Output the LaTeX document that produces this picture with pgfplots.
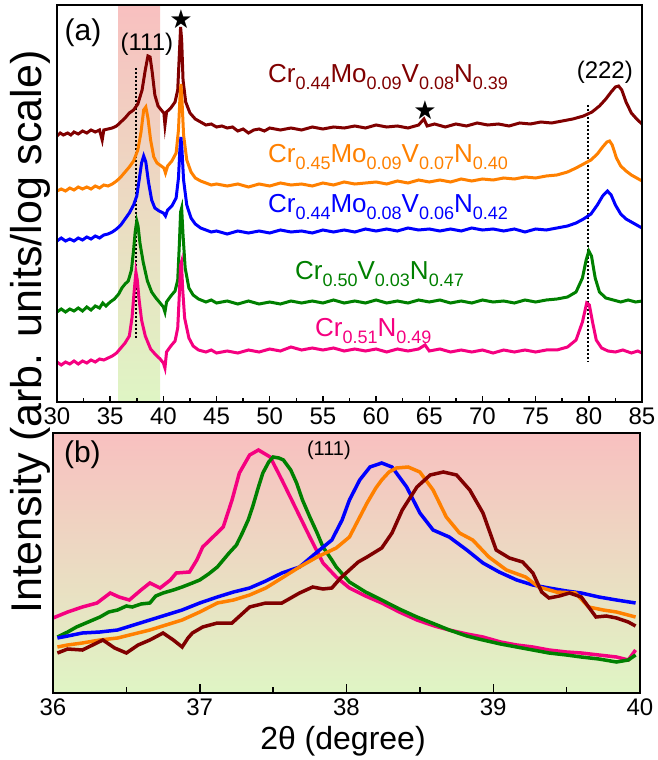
\documentclass[border=0pt]{standalone}
\usepackage{fontspec}
\setmainfont{Liberation Sans}
\newfontfamily\dejavu{DejaVu Sans}
\usepackage{pgfplots}
\pgfplotsset{compat=1.18}
\usetikzlibrary{shadings}
\definecolor{cDR}{RGB}{128,0,0}
\definecolor{cOR}{RGB}{255,128,0}
\definecolor{cBL}{RGB}{0,0,255}
\definecolor{cGR}{RGB}{0,128,0}
\definecolor{cPK}{RGB}{245,0,128}
\definecolor{bgtop}{RGB}{248,192,192}
\definecolor{bgbot}{RGB}{223,245,196}
\newcommand{\fs}[1]{\fontsize{#1}{#1}\selectfont}
\newcommand{\s}[1]{\raisebox{-7bp}{\fs{18bp}#1}}
\pgfplotsset{
  common/.style={
    scale only axis, anchor=south west,
    axis line style={line width=2bp},
    tick style={line width=1.5bp, black},
    tick align=inside, xtick pos=left, ytick=\empty,
    y dir=reverse,
    /pgf/number format/assume math mode=true,
    x tick label style={font=\fs{24bp}},
    clip mode=individual,
  }
}
\begin{document}
\begin{tikzpicture}
\useasboundingbox (0,0) rectangle (658bp,760bp);
% ---------------- panel (a)
\begin{axis}[common,
  at={(57bp,358bp)}, width=585bp, height=397bp,
  xmin=30, xmax=85, ymin=5, ymax=402,
  xtick={30,35,...,85}, minor xtick={32.5,37.5,...,82.5},
  major tick length=6bp, minor tick length=4bp,
  x tick label style={yshift=-2bp},
  axis on top]
\addplot[draw=none, top color=bgtop, bottom color=bgbot] coordinates {(35.8,5) (39.7,5) (39.7,402) (35.8,402)} --cycle;
\addplot[black, line width=2bp, dash pattern=on 2bp off 2bp] coordinates {(37.4,68) (37.4,338)};
\addplot[black, line width=2bp, dash pattern=on 2bp off 2bp] coordinates {(79.9,105) (79.9,362)};
% dark red
\addplot[cDR, line width=3bp] coordinates {(30,136)(30.3,133)(30.6,135)(31,133)(31.3,135)(31.6,132)(32,134)(32.4,131)(32.8,133)(33.2,130)(33.6,132)(34,130)(34.25,140)(34.4,130)(34.8,129)(35.2,128)(35.6,126)(36,122)(36.4,118)(36.8,113)(37.2,110)(37.6,104)(38,90)(38.3,70)(38.55,56)(38.75,57)(38.95,72)(39.2,95)(39.5,106)(39.8,110)(40.05,113)(40.15,125)(40.3,112)(40.7,108)(41.1,102)(41.35,90)(41.5,55)(41.62,27)(41.72,40)(41.85,80)(42.1,102)(42.5,113)(43,119)(43.5,122)(44,125)(44.5,124)(45,127)(45.5,126)(46,128)(46.5,127)(47,131)(47.5,129)(48,133)(48.5,130)(49,129)(49.5,131)(50,128)(51,130)(52,128)(53,130)(54,127)(55,129)(56,127)(57,128)(58,126)(59,128)(60,125)(61,127)(62,126)(63,128)(64,125)(64.5,119)(64.8,126)(65.5,124)(66.5,127)(67.5,124)(68.5,126)(69.5,123)(70.5,125)(71.5,124)(72.5,126)(73.5,123)(74.5,124)(75.5,122)(76.5,123)(77.5,121)(78.5,119)(79.5,116)(80.3,112)(81,106)(81.6,99)(82.1,92)(82.5,87)(82.8,86)(83.1,90)(83.5,102)(84,113)(84.5,119)(85,124)};
% orange
\addplot[cOR, line width=3bp] coordinates {(30,191)(30.4,189)(30.8,191)(31.2,188)(31.6,190)(32,187)(32.4,189)(32.8,187)(33.2,189)(33.6,186)(34,188)(34.4,185)(34.8,186)(35.2,184)(35.6,181)(36,177)(36.4,172)(36.8,167)(37.2,161)(37.6,150)(37.9,132)(38.15,110)(38.35,107)(38.55,118)(38.8,140)(39.1,157)(39.4,163)(39.8,166)(40.05,168)(40.2,173)(40.4,166)(40.8,161)(41.2,153)(41.42,130)(41.55,100)(41.65,84)(41.75,100)(41.9,135)(42.2,160)(42.6,172)(43,178)(43.5,181)(44,183)(44.5,185)(45,184)(46,186)(47,184)(48,187)(49,184)(50,186)(51,183)(52,185)(53,184)(54,186)(55,183)(56,185)(57,182)(58,184)(59,183)(60,182)(61,184)(62,181)(63,183)(64,180)(65,182)(66,180)(67,182)(68,179)(69,181)(70,179)(71,180)(72,178)(73,179)(74,177)(75,178)(76,176)(77,175)(78,172)(78.8,168)(79.5,164)(80.2,160)(80.8,154)(81.3,147)(81.7,142)(81.95,141)(82.2,145)(82.6,158)(83,166)(83.5,171)(84,175)(84.5,178)(85,181)};
% blue
\addplot[cBL, line width=3bp] coordinates {(30,241)(30.4,238)(30.8,241)(31.2,239)(31.6,241)(32,238)(32.4,240)(32.8,237)(33.2,239)(33.6,236)(34,238)(34.4,235)(34.8,234)(35.2,232)(35.6,229)(36,225)(36.4,219)(36.8,213)(37.2,205)(37.5,196)(37.75,178)(37.95,163)(38.15,156)(38.35,162)(38.6,182)(38.9,200)(39.2,208)(39.6,211)(40.0,213)(40.2,216)(40.4,210)(40.8,206)(41.2,198)(41.42,178)(41.55,150)(41.65,137)(41.75,150)(41.9,180)(42.2,205)(42.6,218)(43,224)(43.5,228)(44,230)(44.5,232)(45,231)(46,234)(47,231)(48,233)(49,231)(50,233)(51,230)(52,232)(53,231)(54,233)(55,230)(56,232)(57,230)(58,232)(59,229)(60,231)(61,229)(62,231)(63,228)(64,230)(65,229)(66,231)(67,229)(68,231)(69,228)(70,230)(71,229)(72,231)(73,229)(74,232)(75,229)(76,230)(77,228)(78,226)(78.8,223)(79.5,219)(80.2,214)(80.8,205)(81.3,196)(81.75,191)(82.1,195)(82.5,205)(83,214)(83.5,219)(84,222)(84.5,225)(85,228)};
% green
\addplot[cGR, line width=3bp] coordinates {(30,312)(30.4,309)(30.8,312)(31.2,309)(31.6,311)(32,308)(32.4,311)(32.8,307)(33.2,310)(33.6,306)(34,308)(34.3,303)(34.6,306)(35,302)(35.4,299)(35.8,294)(36.1,288)(36.4,284)(36.7,281)(37.0,270)(37.2,250)(37.35,232)(37.5,221)(37.62,226)(37.8,243)(38.1,262)(38.5,281)(38.9,292)(39.3,298)(39.7,303)(40.0,307)(40.15,312)(40.3,302)(40.7,296)(41.1,291)(41.35,280)(41.5,245)(41.62,212)(41.72,208)(41.85,235)(42.05,268)(42.4,288)(42.8,295)(43.3,299)(44,302)(44.5,300)(45,303)(46,301)(47,304)(48,301)(49,304)(50,302)(51,304)(52,301)(53,303)(54,301)(55,303)(56,300)(57,303)(58,301)(59,303)(60,300)(61,303)(62,301)(63,303)(64,300)(65,302)(66,300)(67,303)(68,301)(69,303)(70,300)(71,302)(72,301)(73,303)(74,300)(75,302)(76,300)(77,299)(78,297)(78.8,292)(79.4,278)(79.75,260)(80.0,251)(80.25,256)(80.6,278)(81,292)(81.6,298)(82.3,300)(83,302)(83.7,300)(84.4,302)(85,301)};
% pink
\addplot[cPK, line width=3bp] coordinates {(30,362)(30.4,365)(30.8,362)(31.2,364)(31.6,361)(32,364)(32.4,361)(32.8,363)(33.2,360)(33.6,362)(34,359)(34.4,360)(34.8,358)(35.2,356)(35.6,353)(36,348)(36.4,343)(36.8,336)(37.05,318)(37.25,292)(37.42,272)(37.55,280)(37.7,298)(37.95,320)(38.3,336)(38.8,349)(39.3,355)(39.7,359)(40.0,363)(40.15,368)(40.3,352)(40.7,346)(41.1,341)(41.35,328)(41.5,295)(41.62,265)(41.7,262)(41.82,290)(42.0,318)(42.4,338)(42.8,346)(43.3,350)(44,352)(44.5,350)(45,353)(46,351)(47,353)(48,350)(49,352)(50,349)(51,351)(52,347)(53,350)(54,348)(55,350)(56,348)(57,351)(58,349)(59,351)(60,349)(61,352)(62,349)(63,351)(64,349)(64.6,345)(65,351)(66,349)(67,352)(68,350)(69,352)(70,350)(71,353)(72,350)(73,352)(74,350)(75,352)(76,350)(77,350)(78,347)(78.8,340)(79.4,322)(79.8,303)(80.05,305)(80.35,322)(80.7,340)(81.2,348)(81.8,351)(82.5,352)(83.2,350)(84,353)(84.6,351)(85,353)};
% stars
\addplot[only marks, mark=text, text mark={\dejavu\fs{26bp}★}] coordinates {(41.65,19) (64.6,110)};
% labels
\node[font=\fs{30bp}, inner sep=0] at (axis cs:32.45,33) {(a)};
\node[font=\fs{24bp}, inner sep=0] at (axis cs:38.45,44) {(111)};
\node[font=\fs{24bp}, inner sep=0] at (axis cs:81.5,72) {(222)};
\node[font=\fs{26bp}, text=cDR, anchor=base west, inner sep=0] at (axis cs:49.83,83) {Cr\s{0.44}Mo\s{0.09}V\s{0.08}N\s{0.39}};
\node[font=\fs{26bp}, text=cOR, anchor=base west, inner sep=0] at (axis cs:49.83,163) {Cr\s{0.45}Mo\s{0.09}V\s{0.07}N\s{0.40}};
\node[font=\fs{26bp}, text=cBL, anchor=base west, inner sep=0] at (axis cs:49.83,213) {Cr\s{0.44}Mo\s{0.08}V\s{0.06}N\s{0.42}};
\node[font=\fs{26bp}, text=cGR, anchor=base west, inner sep=0] at (axis cs:52.37,280) {Cr\s{0.50}V\s{0.03}N\s{0.47}};
\node[font=\fs{26bp}, text=cPK, anchor=base west, inner sep=0] at (axis cs:54.25,337) {Cr\s{0.51}N\s{0.49}};
\end{axis}
% ---------------- panel (b)
\begin{axis}[common,
  at={(53bp,67bp)}, width=587bp, height=260bp,
  xmin=36, xmax=40, ymin=433, ymax=693,
  xtick={36,37,38,39,40}, minor xtick={36.5,37.5,38.5,39.5},
  major tick length=9bp, minor tick length=6bp,
  x tick label style={yshift=-2bp},
  axis background/.style={top color=bgtop, bottom color=bgbot},
  axis on top]
\addplot[cPK, line width=3.5bp] coordinates {(36.0,618)(36.1,612)(36.2,607)(36.3,603)(36.39,593)(36.45,597)(36.52,600)(36.6,590)(36.66,583)(36.73,588)(36.8,580)(36.84,573)(36.93,572)(36.98,560)(37.02,547)(37.09,537)(37.16,527)(37.22,500)(37.27,473)(37.34,455)(37.4,450)(37.48,457)(37.56,480)(37.66,510)(37.75,537)(37.84,563)(37.93,577)(38.02,588)(38.13,596)(38.24,603)(38.36,612)(38.48,620)(38.6,626)(38.7,630)(38.82,634)(38.93,637)(39.05,642)(39.16,645)(39.27,647)(39.38,650)(39.5,652)(39.6,653)(39.72,655)(39.84,657)(39.92,660)(39.97,650)};
\addplot[cGR, line width=3.5bp] coordinates {(36.03,637)(36.1,632)(36.16,627)(36.24,622)(36.32,617)(36.38,612)(36.44,610)(36.5,606)(36.54,607)(36.6,604)(36.66,603)(36.7,596)(36.75,593)(36.82,590)(36.88,587)(36.95,583)(37.0,580)(37.06,574)(37.12,567)(37.16,560)(37.2,553)(37.25,545)(37.29,533)(37.33,520)(37.36,507)(37.4,487)(37.43,473)(37.47,462)(37.5,457)(37.54,458)(37.57,460)(37.62,470)(37.66,483)(37.7,500)(37.75,517)(37.8,533)(37.84,547)(37.9,560)(37.93,567)(38.02,582)(38.13,592)(38.24,600)(38.36,609)(38.48,617)(38.6,624)(38.7,630)(38.82,636)(38.93,640)(39.05,644)(39.16,647)(39.27,650)(39.38,653)(39.5,655)(39.6,657)(39.72,659)(39.84,662)(39.92,660)(39.97,655)};
\addplot[cBL, line width=3.5bp] coordinates {(36.03,638)(36.1,636)(36.2,633)(36.32,632)(36.44,630)(36.55,625)(36.66,620)(36.77,615)(36.88,610)(37.0,603)(37.12,597)(37.23,592)(37.34,588)(37.45,581)(37.56,573)(37.68,567)(37.8,552)(37.9,540)(37.97,520)(38.02,500)(38.09,480)(38.16,467)(38.24,463)(38.31,467)(38.41,487)(38.5,513)(38.59,530)(38.7,537)(38.82,550)(38.93,563)(39.04,572)(39.16,580)(39.27,585)(39.38,588)(39.5,591)(39.6,593)(39.72,597)(39.84,600)(39.97,603)};
\addplot[cOR, line width=3.5bp] coordinates {(36.03,647)(36.1,645)(36.2,643)(36.32,640)(36.44,638)(36.55,634)(36.66,630)(36.77,625)(36.88,620)(37.0,612)(37.12,603)(37.23,600)(37.34,595)(37.45,588)(37.56,578)(37.68,567)(37.8,557)(37.93,548)(38.02,537)(38.08,520)(38.14,503)(38.2,488)(38.24,480)(38.29,472)(38.34,468)(38.42,467)(38.5,472)(38.59,490)(38.68,517)(38.77,533)(38.86,540)(38.97,557)(39.09,570)(39.22,577)(39.31,587)(39.43,592)(39.56,593)(39.65,607)(39.75,610)(39.84,612)(39.97,617)};
\addplot[cDR, line width=3.5bp] coordinates {(36.03,653)(36.1,649)(36.2,650)(36.27,645)(36.34,640)(36.42,648)(36.5,653)(36.58,645)(36.66,640)(36.75,633)(36.82,640)(36.88,647)(36.92,638)(36.95,633)(37.02,627)(37.12,623)(37.22,623)(37.28,615)(37.34,607)(37.45,603)(37.56,603)(37.62,598)(37.68,593)(37.77,587)(37.84,589)(37.9,588)(37.96,578)(38.02,570)(38.08,562)(38.14,557)(38.24,548)(38.31,533)(38.38,510)(38.48,487)(38.57,475)(38.66,472)(38.75,475)(38.84,490)(38.93,513)(39.02,550)(39.11,558)(39.2,562)(39.27,573)(39.33,592)(39.38,598)(39.45,596)(39.52,593)(39.6,597)(39.7,617)(39.77,616)(39.84,618)(39.92,622)(39.97,626)};
\node[font=\fs{30bp}, inner sep=0] at (axis cs:36.2,455) {(b)};
\node[font=\fs{20bp}, inner sep=0] at (axis cs:37.88,450) {(111)};
\end{axis}
\node[font=\fs{32bp}, anchor=base, inner sep=0] at (343bp,11bp) {2θ (degree)};
\node[rotate=90, font=\fs{43bp}, inner sep=0] at (30bp,428bp) {Intensity (arb. units/log scale)};
\end{tikzpicture}
\end{document}
